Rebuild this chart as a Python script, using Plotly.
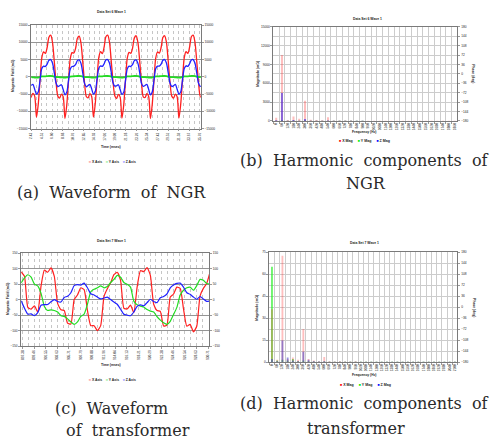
import plotly.graph_objects as go

W, H = 491, 442

# ---------------- data ----------------
# (a) Waveform of NGR (mG), sampled every 0.352 ms starting at 2.43 ms
ngr_t0 = 2.43
ngr_dt = 0.352
ngr_x = [-6000, -4800, -5600, -11700, -8000, -1000, 5500, 7200, 6800, 8500, 11500, 12100, 10000, 4500, -1500, -5600,
         -6200, -5000, -5800, -12100, -8300, -1200, 5300, 7000, 6900, 8300, 11200, 11800, 9800, 4300, -1700, -5700,
         -6100, -4900, -5700, -11700, -7900, -900, 5600, 7300, 6700, 8600, 11600, 12100, 10100, 4600, -1400, -5500,
         -6300, -5100, -5900, -12000, -8200, -1100, 5400, 7100, 6800, 8400, 11300, 11900, 9900, 4400, -1600, -5800,
         -6000, -4900, -5700, -12100, -8100, -1000, 5500, 7200, 6900, 8500, 11400, 11900, 10000, 4500, -1500, -5600,
         -6200, -5000, -5800, -12000, -8000, -1000, 5500, 7300, 6800, 8600, 11600, 12100, 10100, 4600, -1500, -5700,
         -6100]
ngr_y = [-100, -150, -200, -250, -200, -50, 100, 150, 150, 200, 250, 250, 200, 50, -50, -100,
         -120, -150, -220, -250, -180, -60, 90, 150, 160, 200, 240, 250, 190, 60, -60, -110,
         -100, -140, -200, -240, -200, -50, 110, 150, 150, 210, 250, 240, 200, 50, -50, -100,
         -110, -150, -210, -250, -190, -60, 100, 140, 150, 200, 250, 250, 200, 40, -50, -100,
         -100, -150, -200, -260, -200, -50, 100, 150, 160, 200, 240, 250, 210, 50, -60, -110,
         -100, -150, -200, -250, -200, -50, 100, 150, 150, 200, 250, 250, 200, 50, -50, -100,
         -100]
ngr_z = [-2500, -2200, -3600, -5000, -4400, -1000, 2400, 3100, 3000, 3700, 4800, 5000, 4000, 1200, -1800, -2800,
         -2600, -2300, -3700, -5200, -4500, -1100, 2300, 3000, 3100, 3600, 4700, 4900, 3900, 1100, -1900, -2900,
         -2500, -2200, -3500, -5000, -4300, -900, 2500, 3200, 3000, 3800, 4900, 5000, 4000, 1300, -1700, -2700,
         -2600, -2300, -3700, -5100, -4500, -1100, 2300, 3100, 3000, 3600, 4700, 4900, 3900, 1100, -1900, -2800,
         -2500, -2200, -3600, -5200, -4400, -1000, 2400, 3100, 3100, 3700, 4800, 5000, 4000, 1200, -1800, -2800,
         -2600, -2200, -3600, -5000, -4400, -1000, 2400, 3200, 3000, 3800, 4900, 5000, 4000, 1200, -1800, -2800,
         -2500]
ngr_tick0 = 2.43
ngr_tickstep = 2.083

# (c) Waveform of transformer (mG), sampled every 0.595 ms
tr_t0 = 897.14
tr_dt = 0.595
tr_x = [89, 75, -25, -31, -20, -40, 44, 95, 88, 102, 75, -12, -33, -35, -76, -79, 0, 15, 38, 32,
        -35, -84, -84, -100, -84, 10, 35, 54, 80,
        88, 62, -28, -30, -18, -42, 40, 93, 90, 103, 78, -15, -35, -38, -85, -82, 8, 18, 40, 36,
        -30, -86, -80, -104, -86, 12, 36, 52, 88]
tr_y = [54, 70, 80, 72, 50, 44, 20, -22, -35, -33, -35, -40, -52, -54, -62, -72, -80, -72, -54, -47,
        -15, 25, 33, 38, 44, 38, 42, 55, 65,
        78, 72, 55, 49, 40, -5, -17, -21, -24, -32, -37, -40, -55, -66, -75, -80, -70, -48, -25, 15,
        30, 38, 40, 30, 45, 65, 62, 52, 50]
tr_z = [-4, -28, -47, -46, -52, -42, -18, -16, -16, -7, 0, -6, -8, 7, 11, 22, 45, 48, 47, 53,
        38, 19, 15, 8, 2, 5, 8, 0, -8,
        -15, -31, -47, -50, -52, -40, -22, -17, -20, -10, 1, -6, -10, 6, 10, 18, 38, 47, 52, 53,
        40, 22, 17, 8, 1, 10, 2, -6, -4]
tr_tick0 = 897.38
tr_tickstep = 2.083

# (b) Harmonic components of NGR (mG)
freq_b = ["0", "60", "120", "180", "240", "300", "360", "420", "480", "540", "600", "660",
          "720", "780", "840", "900", "960", "1020", "1080", "1140", "1200", "1260", "1320",
          "1380", "1440", "1500", "1560", "1620", "1680", "1740", "1800", "1860"]
ngr_xmag = [500, 10500, 150, 700, 350, 3200, 200, 150, 100, 600, 80, 60, 50, 50, 40, 30,
            30, 30, 25, 25, 20, 20, 20, 20, 15, 15, 15, 15, 15, 15, 15, 15]
ngr_ymag = [20, 150, 10, 80, 10, 100, 10, 10, 10, 20, 10, 10, 10, 10, 10, 10,
            5, 5, 5, 5, 5, 5, 5, 5, 5, 5, 5, 5, 5, 5, 5, 5]
ngr_zmag = [100, 4450, 20, 150, 30, 300, 20, 20, 10, 50, 10, 10, 10, 10, 10, 10,
            5, 5, 5, 5, 5, 5, 5, 5, 5, 5, 5, 5, 5, 5, 5, 5]

# (d) Harmonic components of transformer (mG)
freq_d = ["0", "60", "120", "180", "240", "300", "360", "420", "480", "540", "600", "660",
          "720", "780", "840", "900", "960", "1020", "1080", "1140", "1200", "1260", "1320",
          "1380", "1440", "1500", "1560", "1620", "1680", "1740", "1800", "1860", "1920",
          "1980", "2040", "2100"]
tr_xmag = [36, 1.5, 72.5, 2, 3, 1.5, 22.5, 2, 1, 0.5, 3.5, 0.5, 0.3, 0.6, 0.4, 0.3, 0.5, 0.2,
           0.2, 0.2, 0.2, 0.2, 0.2, 0.2, 0.2, 0.2, 0.2, 0.2, 0.2, 0.2, 0.2, 0.2, 0.2, 0.2, 0.2, 0.2]
tr_ymag = [65, 1, 1.5, 1, 2, 0.5, 1, 0.5, 0.3, 0.2, 0.3, 0.2, 0.2, 0.2, 0.2, 0.2, 0.2, 0.1,
           0.1, 0.1, 0.1, 0.1, 0.1, 0.1, 0.1, 0.1, 0.1, 0.1, 0.1, 0.1, 0.1, 0.1, 0.1, 0.1, 0.1, 0.1]
tr_zmag = [2, 0.5, 14.6, 3, 1, 0.5, 7, 1.5, 0.5, 0.3, 0.5, 0.2, 0.1, 0.1, 0.1, 0.1, 0.1, 0.1,
           0.1, 0.1, 0.1, 0.1, 0.1, 0.1, 0.1, 0.1, 0.1, 0.1, 0.1, 0.1, 0.1, 0.1, 0.1, 0.1, 0.1, 0.1]

# ---------------- helpers ----------------
def xd(a, b):
    return [a / W, b / W]

def yd(top, bottom):
    return [1 - bottom / H, 1 - top / H]

RED, GREEN, BLUE = "#ff2020", "#22dd22", "#2020ff"
TXT = "#222222"
SANS = "Liberation Sans"
tf = dict(family=SANS, size=3.2, color=TXT)

fig = go.Figure()

# (a) waveform NGR
for vals, col, w in [(ngr_x, RED, 1.3), (ngr_y, GREEN, 1.8), (ngr_z, BLUE, 1.3)]:
    fig.add_trace(go.Scatter(x0=ngr_t0, dx=ngr_dt, y=vals, mode="lines",
                             line=dict(color=col, width=w, shape="spline", smoothing=0.8),
                             xaxis="x", yaxis="y", showlegend=False, hoverinfo="skip"))
fig.add_trace(go.Scatter(x=[None], y=[None], xaxis="x", yaxis="y2", showlegend=False, hoverinfo="skip"))

# (c) waveform transformer
for vals, col in [(tr_x, RED), (tr_y, GREEN), (tr_z, BLUE)]:
    fig.add_trace(go.Scatter(x0=tr_t0, dx=tr_dt, y=vals, mode="lines",
                             line=dict(color=col, width=1.2, shape="spline", smoothing=0.5),
                             xaxis="x3", yaxis="y5", showlegend=False, hoverinfo="skip"))
fig.add_trace(go.Scatter(x=[None], y=[None], xaxis="x3", yaxis="y6", showlegend=False, hoverinfo="skip"))

# (b) harmonics NGR
for vals, col in [(ngr_ymag, "rgba(0,230,0,0.6)"), (ngr_xmag, "rgba(255,40,40,0.3)"),
                  (ngr_zmag, "rgba(60,40,230,0.6)")]:
    fig.add_trace(go.Bar(x=freq_b, y=vals, marker=dict(color=col, line=dict(width=0)), width=0.35,
                         xaxis="x2", yaxis="y3", showlegend=False, hoverinfo="skip"))
fig.add_trace(go.Scatter(x=[None], y=[None], xaxis="x2", yaxis="y4", showlegend=False, hoverinfo="skip"))

# (d) harmonics transformer
for vals, col in [(tr_ymag, "rgba(40,240,40,0.7)"), (tr_xmag, "rgba(255,40,40,0.3)"),
                  (tr_zmag, "rgba(60,60,200,0.55)")]:
    fig.add_trace(go.Bar(x=freq_d, y=vals, marker=dict(color=col, line=dict(width=0)), width=0.35,
                         xaxis="x4", yaxis="y7", showlegend=False, hoverinfo="skip"))
fig.add_trace(go.Scatter(x=[None], y=[None], xaxis="x4", yaxis="y8", showlegend=False, hoverinfo="skip"))

frame = dict(showline=True, linecolor="#7a7a7a", linewidth=0.8, mirror=True, zeroline=False,
             tickfont=tf, ticks="outside", ticklen=2, tickcolor="#9a9a9a", tickwidth=0.5)

DOT = "#c6c6c6"
wave_x = dict(frame, tickmode="linear", tickformat=".2f", tickangle=-90, showgrid=True,
              gridcolor=DOT, griddash="dot", gridwidth=0.6)
wave_y = dict(frame, tickformat="d", showgrid=True, gridcolor="#959595", gridwidth=1.1)
right = dict(showgrid=False, zeroline=False, tickfont=tf, ticks="outside", ticklen=2,
             tickcolor="#9a9a9a", showline=False, tickformat="d")

harm_x = dict(frame, type="category", tickson="boundaries", tickangle=-90, showgrid=True,
              gridcolor="#cccccc", gridwidth=0.6)
harm_y = dict(frame, tickformat="d", showgrid=True, gridcolor="#cccccc", gridwidth=0.6)

fig.update_layout(
    width=W, height=H, autosize=False, margin=dict(l=0, r=0, t=0, b=0),
    paper_bgcolor="white", plot_bgcolor="white", barmode="overlay", showlegend=False,
    # (a)
    xaxis=dict(wave_x, domain=xd(29.3, 200), anchor="y", range=[2.43, 35.97],
               tick0=ngr_tick0, dtick=ngr_tickstep,
               minor=dict(tick0=ngr_tick0, dtick=ngr_tickstep / 2, showgrid=True,
                          gridcolor=DOT, griddash="dot", gridwidth=0.6)),
    yaxis=dict(wave_y, domain=yd(23.3, 127.7), anchor="x", range=[-15000, 15000], dtick=5000),
    yaxis2=dict(right, overlaying="y", side="right", anchor="x", range=[-15000, 15000], dtick=5000),
    # (b)
    xaxis2=dict(harm_x, domain=xd(273, 458.3), anchor="y3", range=[-0.5, 31.5]),
    yaxis3=dict(harm_y, domain=yd(25, 120), anchor="x2", range=[0, 15000], dtick=3000,
                minor=dict(dtick=1500, showgrid=True, gridcolor="#cccccc", gridwidth=0.6)),
    yaxis4=dict(right, overlaying="y3", side="right", anchor="x2", range=[-180, 180], dtick=36),
    # (c)
    xaxis3=dict(wave_x, domain=xd(19.3, 208.3), anchor="y5", range=[897.14, 930.88],
                tick0=tr_tick0, dtick=tr_tickstep,
                minor=dict(tick0=tr_tick0, dtick=tr_tickstep / 2, showgrid=True,
                           gridcolor=DOT, griddash="dot", gridwidth=0.6)),
    yaxis5=dict(wave_y, domain=yd(253.3, 347.3), anchor="x3", range=[-150, 150], dtick=50),
    yaxis6=dict(right, overlaying="y5", side="right", anchor="x3", range=[-150, 150], dtick=50),
    # (d)
    xaxis4=dict(harm_x, domain=xd(269, 458.3), anchor="y7", range=[-0.5, 35.5]),
    yaxis7=dict(harm_y, domain=yd(252.3, 363.3), anchor="x4", range=[0, 75], dtick=15,
                minor=dict(dtick=7.5, showgrid=True, gridcolor="#cccccc", gridwidth=0.6)),
    yaxis8=dict(right, overlaying="y7", side="right", anchor="x4", range=[-180, 180], dtick=36),
)

ann = []

def text(px, py, s, size=3.2, angle=0, family=SANS, color=TXT, bold=True):
    ann.append(dict(x=px / W, y=1 - py / H, xref="paper", yref="paper", text=(f"<b>{s}</b>" if bold else s),
                    showarrow=False, xanchor="center", yanchor="middle", textangle=angle,
                    font=dict(family=family, size=size, color=color)))

# chart titles
text(110, 10, "Data Set 6 Wave 1", 3.4)
text(368, 17, "Data Set 6 Wave 1", 3.4)
text(110, 241, "Data Set 7 Wave 1", 3.4)
text(365, 243, "Data Set 7 Wave 1", 3.4)
# axis titles
text(11.7, 75, "Magnetic Field (mG)", 3.4, -90)
text(110, 146, "Time (msec)", 3.4)
text(258, 72, "Magnitude (mG)", 3.4, -90)
text(474, 72, "Phase (deg)", 3.4, 90)
text(365, 131, "Frequency (Hz)", 3.4)
text(6.7, 300, "Magnetic Field (mG)", 3.4, -90)
text(110, 366, "Time (msec)", 3.4)
text(257, 308, "Magnitude (mG)", 3.4, -90)
text(475, 308, "Phase (deg)", 3.4, 90)
text(365, 376, "Frequency (Hz)", 3.4)

# legends
line_leg = (f"<span style='color:{RED}'>━</span> X Axis&nbsp;&nbsp;&nbsp;&nbsp;"
            f"<span style='color:{GREEN}'>━</span> Y Axis&nbsp;&nbsp;&nbsp;&nbsp;"
            f"<span style='color:{BLUE}'>━</span> Z Axis")
bar_leg = (f"<span style='color:#ff0000'>■</span> X Mag&nbsp;&nbsp;&nbsp;&nbsp;&nbsp;"
           f"<span style='color:#00ee00'>■</span> Y Mag&nbsp;&nbsp;&nbsp;&nbsp;&nbsp;"
           f"<span style='color:#0000ff'>■</span> Z Mag")
text(111, 161, line_leg, 3.4)
text(111, 381, line_leg, 3.4)
text(365, 140, bar_leg, 3.6)
text(366, 386, bar_leg, 3.6)

# captions
SERIF = "DejaVu Serif"
CAP = "#2a2a2a"
text(110, 192, "(a)&nbsp; Waveform&nbsp; of&nbsp; NGR", 16, family=SERIF, color=CAP, bold=False)
text(365, 160, "(b)&nbsp; Harmonic&nbsp; components&nbsp; of", 16, family=SERIF, color=CAP, bold=False)
text(366, 183, "NGR", 16, family=SERIF, color=CAP, bold=False)
text(110, 410, "(c)&nbsp; Waveform", 16, family=SERIF, color=CAP, bold=False)
text(127, 432, "of&nbsp; transformer", 16, family=SERIF, color=CAP, bold=False)
text(365, 405, "(d)&nbsp; Harmonic&nbsp; components&nbsp; of", 16, family=SERIF, color=CAP, bold=False)
text(356, 430, "transformer", 16, family=SERIF, color=CAP, bold=False)

fig.update_layout(annotations=ann)

fig.write_html("out.html", config={"displayModeBar": False},
               post_script="document.body.style.margin='0';")
